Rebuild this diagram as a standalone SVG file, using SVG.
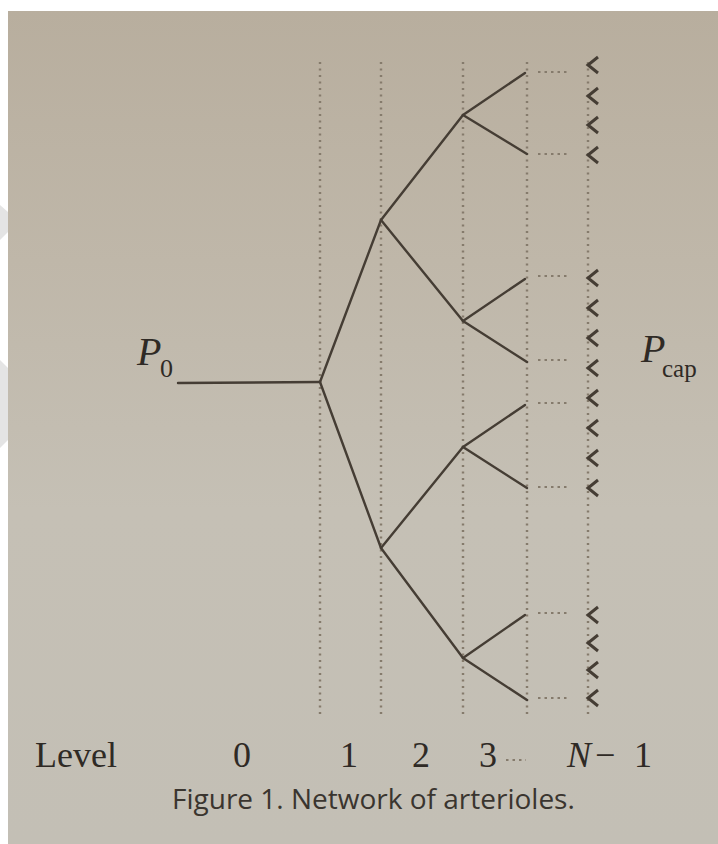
<svg xmlns="http://www.w3.org/2000/svg" width="718" height="844" viewBox="0 0 718 844">
<defs>
<linearGradient id="bg" x1="0" y1="0" x2="0" y2="1">
<stop offset="0" stop-color="#b8ae9e"/>
<stop offset="0.3" stop-color="#bfb7a9"/>
<stop offset="0.6" stop-color="#c5c0b5"/>
<stop offset="1" stop-color="#c3bfb5"/>
</linearGradient>
<polyline id="chev" points="598,-8 588,0 598,8" fill="none" stroke="#453d34" stroke-width="3" stroke-linejoin="miter"/>
</defs>
<style>
.v{stroke:#857b6c;stroke-width:2.4;stroke-dasharray:2 4.5;fill:none}
.d{stroke:#857b6c;stroke-width:2;stroke-dasharray:2.5 4;fill:none}
.b{stroke:#453d34;stroke-width:2.4;fill:none;stroke-linecap:round}
.t{font-family:"Liberation Serif","Times New Roman",serif;fill:#2f2a25}
.c{font-family:"Open Sans","Noto Sans",sans-serif;fill:#3a352f}
</style>
<rect width="718" height="844" fill="#ffffff"/>
<rect x="8" y="11" width="710" height="833" fill="url(#bg)"/>
<g id="watermark" fill="#e4e4e4">
<polygon points="0,205 8,212 8,232 0,240"/>
<polygon points="0,360 8,368 8,440 0,448"/>
</g>
<g id="grid">
<line class="v" x1="320" y1="62" x2="320" y2="716"/>
<line class="v" x1="381" y1="62" x2="381" y2="716"/>
<line class="v" x1="463" y1="62" x2="463" y2="716"/>
<line class="v" x1="527" y1="62" x2="527" y2="716"/>
<line class="v" x1="588" y1="62" x2="588" y2="716"/>
</g>
<g id="connectors">
<line class="b" x1="178" y1="383" x2="320" y2="382"/>
<line class="b" x1="320" y1="382" x2="381" y2="220"/>
<line class="b" x1="320" y1="382" x2="381" y2="548"/>
<line class="b" x1="381" y1="220" x2="463" y2="115"/>
<line class="b" x1="381" y1="220" x2="463" y2="321"/>
<line class="b" x1="381" y1="548" x2="463" y2="447"/>
<line class="b" x1="381" y1="548" x2="463" y2="658"/>
<line class="b" x1="463" y1="115" x2="525" y2="73"/>
<line class="b" x1="463" y1="115" x2="527" y2="154"/>
<line class="b" x1="463" y1="321" x2="525" y2="279"/>
<line class="b" x1="463" y1="321" x2="527" y2="362"/>
<line class="b" x1="463" y1="447" x2="525" y2="405"/>
<line class="b" x1="463" y1="447" x2="527" y2="488"/>
<line class="b" x1="463" y1="658" x2="525" y2="615"/>
<line class="b" x1="463" y1="658" x2="527" y2="700"/>
</g>
<g id="ellipses">
<line class="d" x1="538" y1="72" x2="569" y2="72"/>
<line class="d" x1="538" y1="154" x2="569" y2="154"/>
<line class="d" x1="538" y1="276" x2="569" y2="276"/>
<line class="d" x1="538" y1="360" x2="569" y2="360"/>
<line class="d" x1="538" y1="403" x2="569" y2="403"/>
<line class="d" x1="538" y1="487" x2="569" y2="487"/>
<line class="d" x1="538" y1="613" x2="569" y2="613"/>
<line class="d" x1="538" y1="698" x2="569" y2="698"/>
</g>
<g id="capillaries">
<use href="#chev" y="65"/><use href="#chev" y="96"/><use href="#chev" y="125"/><use href="#chev" y="155"/>
<use href="#chev" y="278"/><use href="#chev" y="308"/><use href="#chev" y="338"/><use href="#chev" y="368"/>
<use href="#chev" y="398"/><use href="#chev" y="428"/><use href="#chev" y="458"/><use href="#chev" y="488"/>
<use href="#chev" y="615"/><use href="#chev" y="643"/><use href="#chev" y="670"/><use href="#chev" y="698"/>
</g>
<g id="P0">
<text class="t" x="137" y="365" font-size="40" font-style="italic">P</text>
<text class="t" x="160" y="377" font-size="26">0</text>
</g>
<g id="Pcap">
<text class="t" x="641" y="362" font-size="40" font-style="italic">P</text>
<text class="t" x="662" y="377" font-size="25">cap</text>
</g>
<g id="levels">
<text class="t" x="35" y="767" font-size="36">Level</text>
<text class="t" x="242" y="767" font-size="36" text-anchor="middle">0</text>
<text class="t" x="349" y="767" font-size="36" text-anchor="middle">1</text>
<text class="t" x="421" y="767" font-size="36" text-anchor="middle">2</text>
<text class="t" x="488" y="767" font-size="36" text-anchor="middle">3</text>
<line class="d" x1="506" y1="760" x2="526" y2="760" stroke-width="1.6" stroke-dasharray="1.8 2.6"/>
<text class="t" x="567" y="767" font-size="36"><tspan font-style="italic">N</tspan><tspan x="595">−</tspan><tspan x="634">1</tspan></text>
</g>
<g id="caption">
<text class="c" x="172" y="809" font-size="28">Figure 1. Network of arterioles.</text>
</g>
</svg>
